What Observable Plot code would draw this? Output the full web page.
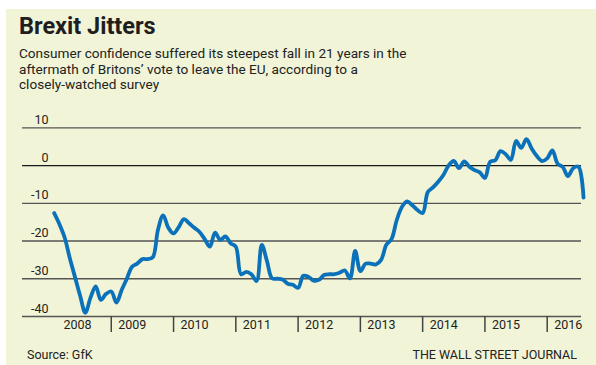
<!DOCTYPE html>
<html>
<head>
<meta charset="utf-8">
<script src="https://cdn.jsdelivr.net/npm/d3@7"></script>
<script src="https://cdn.jsdelivr.net/npm/@observablehq/plot@0.6"></script>
<style>
  html, body { margin: 0; padding: 0; background: #ffffff; }
  body { width: 596px; height: 365px; position: relative; overflow: hidden; font-family: Roboto, "Noto Sans", sans-serif; }
  #panel { position: absolute; left: 6px; top: 9px; width: 590px; height: 356px; background: #f1f4d6; }
  #title { position: absolute; left: 19px; top: 14px; font-size: 23.5px; font-weight: 700; line-height: 24px; color: #1e1e1e; white-space: nowrap; }
  #subtitle { position: absolute; left: 19px; top: 46px; font-size: 13.6px; line-height: 15.7px; color: #222; white-space: nowrap; }
  #chart { position: absolute; left: 0; top: 100px; }
  #source { position: absolute; left: 27px; top: 347px; font-size: 12.5px; line-height: 16px; color: #222; }
  #credit { position: absolute; right: 19px; top: 347px; font-size: 12.5px; line-height: 16px; color: #222; }
</style>
</head>
<body>
<div id="panel"></div>
<div id="title">Brexit Jitters</div>
<div id="subtitle">Consumer confidence suffered its steepest fall in 21 years in the<br>aftermath of Britons’ vote to leave the EU, according to a<br>closely-watched survey</div>
<div id="chart"></div>
<div id="source">Source: GfK</div>
<div id="credit">THE WALL STREET JOURNAL</div>
<script>
// GfK UK consumer confidence, monthly, Jan 2008 – Jul 2016
const startYear = 2008;
const confidence = [
  // 2008
  -12.6, -15.5, -19, -24.5, -29.5, -34.5, -39, -35, -32, -35.6, -34, -33.4,
  // 2009
  -36.3, -33, -30, -26.8, -26, -24.8, -24.8, -24.3, -17, -13.2, -16.5, -18,
  // 2010
  -16.3, -14.2, -15.3, -16.5, -17.6, -19.5, -21.5, -17.8, -19.7, -18.8, -20.6, -21.5,
  // 2011
  -28.8, -28.2, -28.8, -30.6, -21, -25.3, -29.9, -30, -30.2, -31.3, -31.6, -32.4,
  // 2012
  -29.2, -29.5, -30.5, -30.3, -29, -28.8, -28.8, -28.4, -27.8, -29.9, -22.6, -28,
  // 2013
  -26, -26, -26.2, -25, -21, -19.5, -14.5, -11, -9.5, -10.5, -11.8, -12.6,
  // 2014
  -7, -5.8, -4.3, -2.5, 0, 1.2, -0.7, 1.1, -0.3, -1.2, -1.8, -3.3,
  // 2015
  1, 1.4, 3.8, 3, 1.5, 6.5, 4.7, 7, 4.5, 2.5, 1.2, 1.9,
  // 2016
  4, 0.5, -0.4, -2.8, -0.7, -0.3, -8.5
];
const gridValues = [-40, -30, -20, -10, 0, 10];
const yearTicks = [2009, 2010, 2011, 2012, 2013, 2014, 2015, 2016];
const yearLabels = [2008, 2009, 2010, 2011, 2012, 2013, 2014, 2015, 2016];

const data = confidence.map((v, i) => ({ t: startYear + (i + 1) / 12, v }));

const chart = Plot.plot({
  width: 596,
  height: 240,
  marginLeft: 22,
  marginRight: 15,
  marginTop: 27.3,
  marginBottom: 24,
  style: { background: "transparent", fontFamily: "Roboto, 'Noto Sans', sans-serif", fontSize: "12.5px", color: "#222" },
  x: { type: "linear", domain: [2007.5745, 2016.5508], axis: null },
  y: { domain: [-40, 10], axis: null },
  marks: [
    Plot.ruleY(gridValues.filter(d => d !== 0), { stroke: "#555", strokeWidth: 1.3 }),
    Plot.ruleY([0], { stroke: "#1a1a1a", strokeWidth: 1.3 }),
    Plot.axisX({ ticks: yearTicks, tickSize: 16, tickFormat: () => "", label: null, stroke: "#444", strokeWidth: 1.5 }),
    Plot.text(yearLabels.filter(d => d !== 2008), { x: d => d, text: d => String(d), frameAnchor: "bottom", dy: 12.5, dx: 7, textAnchor: "start", fill: "#222" }),
    Plot.text(yearLabels.filter(d => d === 2008), { x: d => d, text: d => String(d), frameAnchor: "bottom", dy: 12.5, dx: 14.5, textAnchor: "start", fill: "#222" }),
    Plot.text(gridValues, { y: d => d, text: d => String(d), frameAnchor: "left", dx: 26, dy: -8, textAnchor: "end", fill: "#222" }),
    Plot.line(data, { x: "t", y: "v", stroke: "#0a71ba", strokeWidth: 3.8, curve: "catmull-rom" })
  ]
});
document.getElementById("chart").appendChild(chart);
</script>
</body>
</html>
